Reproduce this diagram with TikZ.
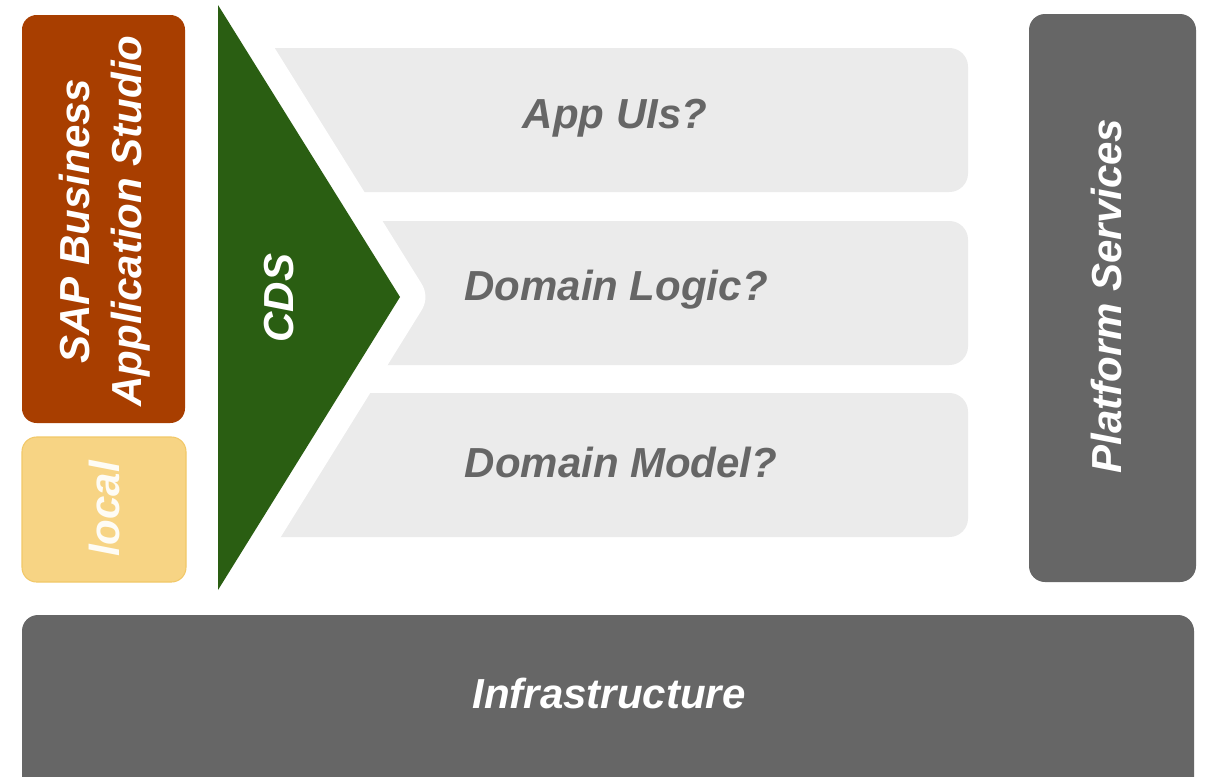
\documentclass[tikz,border=0pt]{standalone}
\usepackage{fontspec}
\setmainfont{Liberation Sans}
\definecolor{sapOrange}{HTML}{A83E00}
\definecolor{sapYellow}{HTML}{F7D484}
\definecolor{sapYellowLine}{HTML}{F2C868}
\definecolor{sapGreen}{HTML}{2A5E12}
\definecolor{darkGray}{HTML}{666666}
\definecolor{lightGray}{HTML}{EBEBEB}
\begin{document}
\begin{tikzpicture}[x=0.75pt,y=-0.75pt,
  lbl/.style={font=\fontsize{31.5}{39}\selectfont\bfseries\itshape, text=white, align=center, inner sep=0pt},
  graylbl/.style={lbl, text=darkGray},
  layer/.style={fill=lightGray, rounded corners=14pt}]
\clip (0,0) rectangle (1205,776);
\fill[white] (0,0) rectangle (1205,776);
% left boxes
\fill[sapOrange, rounded corners=11pt] (22,15) rectangle (185,423);
\filldraw[fill=sapYellow, draw=sapYellowLine, line width=0.8pt, rounded corners=11pt] (22,437) rectangle (186,582);
% right box
\fill[darkGray, rounded corners=12pt] (1029,14) rectangle (1196,582);
% light layers
\fill[layer] (200,48) rectangle (968,192);
\fill[layer] (200,221) rectangle (968,365);
\fill[layer] (200,393) rectangle (968,537);
% CDS triangle with white halo
\draw[white, line width=38pt, line join=round] (218,5) -- (400,297) -- (218,590) -- cycle;
\fill[sapGreen] (218,5) -- (400,297) -- (218,590) -- cycle;
% bottom box
\fill[darkGray, rounded corners=12pt] (22,615) rectangle (1194,800);
% labels
\node[lbl, rotate=90] (bas) at (105,221) {SAP Business\\Application Studio};
\node[lbl, rotate=90, text=white!92!sapYellow] (local) at (104,509) {local};
\node[lbl, rotate=90] (cds) at (279,298) {CDS};
\node[lbl, rotate=90] (ps) at (1106,296) {Platform Services};
\node[lbl] (infra) at (609,693) {Infrastructure};
\node[graylbl] (ui) at (615,118) {App UIs?};
\node[graylbl] (logic) at (616,290) {Domain Logic?};
\node[graylbl] (model) at (621,462) {Domain Model?};
\end{tikzpicture}
\end{document}
